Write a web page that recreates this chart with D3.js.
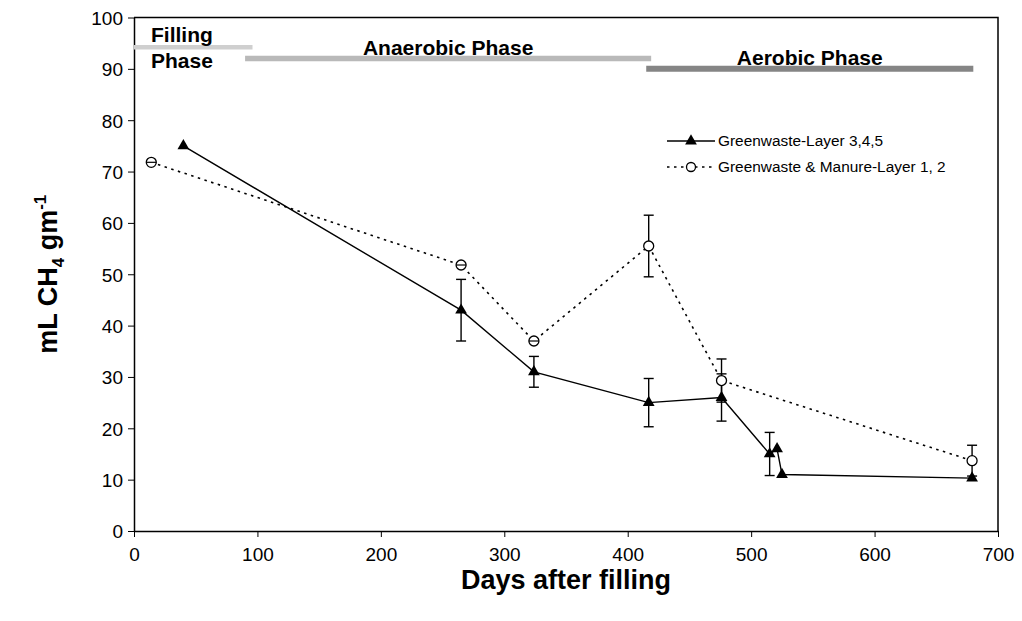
<!DOCTYPE html>
<html>
<head>
<meta charset="utf-8">
<script src="https://cdn.jsdelivr.net/npm/d3@7"></script>
<style>
  body { margin: 0; background: #fff; }
  svg text { font-family: "Liberation Sans", Arial, sans-serif; }
</style>
</head>
<body>
<svg id="chart" width="1022" height="621"></svg>
<script>
// --- data
const greenDays = [40, 265, 324, 417, 476, 515, 521, 525, 679]
const greenValues = [75, 43, 31, 25, 26, 15, 16, 11, 10.3]
const greenErr = [0, 6, 3, 4.7, 4.6, 4.2, 0, 0, 0]

const manureDays = [14, 265, 324, 417, 476, 679]
const manureValues = [71.8, 51.8, 37, 55.5, 29.3, 13.7]
const manureErr = [0, 0, 0, 6, 4.2, 3]

const phaseNames = ['Filling', 'Anaerobic Phase', 'Aerobic Phase']
const phaseStart = [0, 90, 415]
const phaseEnd = [96, 419, 680]
const phaseLevel = [94.2, 92, 90]

const xTicks = [0, 100, 200, 300, 400, 500, 600, 700]
const yTicks = [0, 10, 20, 30, 40, 50, 60, 70, 80, 90, 100]

const legendLabels = ['Greenwaste-Layer 3,4,5', 'Greenwaste & Manure-Layer 1, 2']

// --- layout
const margin = {top: 17.5, right: 24, bottom: 90, left: 134}
const width = 1022 - margin.left - margin.right
const height = 621 - margin.top - margin.bottom

const svg = d3.select('#chart')
const g = svg.append('g').attr('transform', `translate(${margin.left},${margin.top})`)

const x = d3.scaleLinear().domain([0, 700]).range([0, width])
const y = d3.scaleLinear().domain([0, 100]).range([height, 0])

// frame (top and right sides)
g.append('path')
  .attr('d', `M0,0H${width}V${height}`)
  .attr('fill', 'none')
  .attr('stroke', '#000')
  .attr('stroke-width', 1.5)

// axes
const xAxis = g.append('g')
  .attr('transform', `translate(0,${height})`)
  .call(d3.axisBottom(x).tickValues(xTicks).tickSize(6).tickSizeOuter(0))
const yAxis = g.append('g')
  .call(d3.axisLeft(y).tickValues(yTicks).tickSize(6).tickSizeOuter(0))

for (const ax of [xAxis, yAxis]) {
  ax.select('.domain').attr('stroke-width', 1.5)
  ax.selectAll('.tick line').attr('stroke-width', 1)
  ax.selectAll('.tick text')
    .attr('font-size', 19)
    .attr('fill', '#000')
    .style('font-family', '"Liberation Sans", Arial, sans-serif')
}
xAxis.selectAll('.tick text').attr('y', 12).attr('dy', '0.95em')
yAxis.selectAll('.tick text').attr('x', -11).attr('dy', '0.36em')

// axis titles
svg.append('text')
  .attr('x', margin.left + width / 2)
  .attr('y', 589)
  .attr('text-anchor', 'middle')
  .attr('font-size', 27)
  .attr('font-weight', 'bold')
  .text('Days after filling')

const yTitle = svg.append('text')
  .attr('transform', `translate(57,${margin.top + height / 2}) rotate(-90)`)
  .attr('text-anchor', 'middle')
  .attr('font-size', 27)
  .attr('font-weight', 'bold')
yTitle.append('tspan').text('mL CH')
yTitle.append('tspan').attr('font-size', 17).attr('dy', 7).text('4')
yTitle.append('tspan').attr('dy', -7).text(' gm')
yTitle.append('tspan').attr('font-size', 17).attr('dy', -11).text('-1')

// --- phase bars
const phaseColors = ['#cfcfcf', '#b9b9b9', '#858585']
const phaseWidths = [4.5, 5.5, 6]
phaseNames.forEach((name, i) => {
  g.append('line')
    .attr('x1', x(phaseStart[i]))
    .attr('x2', x(phaseEnd[i]))
    .attr('y1', y(phaseLevel[i]))
    .attr('y2', y(phaseLevel[i]))
    .attr('stroke', phaseColors[i])
    .attr('stroke-width', phaseWidths[i])
})

const phaseText = g.append('g')
  .attr('font-size', 21)
  .attr('font-weight', 'bold')
phaseText.append('text').attr('x', 17).attr('y', 24).text('Filling')
phaseText.append('text').attr('x', 17).attr('y', 50).text('Phase')
phaseText.append('text')
  .attr('x', x((phaseStart[1] + phaseEnd[1]) / 2)).attr('y', 37).attr('text-anchor', 'middle')
  .text(phaseNames[1])
phaseText.append('text')
  .attr('x', x((phaseStart[2] + phaseEnd[2]) / 2)).attr('y', 47).attr('text-anchor', 'middle')
  .text(phaseNames[2])

// --- series
const greenData = greenDays.map((d, i) => ({day: d, v: greenValues[i], e: greenErr[i]}))
const manureData = manureDays.map((d, i) => ({day: d, v: manureValues[i], e: manureErr[i]}))

const line = d3.line().x(d => x(d.day)).y(d => y(d.v))

g.append('path')
  .datum(manureData)
  .attr('d', line)
  .attr('fill', 'none')
  .attr('stroke', '#000')
  .attr('stroke-width', 1.6)
  .attr('stroke-dasharray', '2.5,4.5')

g.append('path')
  .datum(greenData)
  .attr('d', line)
  .attr('fill', 'none')
  .attr('stroke', '#000')
  .attr('stroke-width', 1.4)

// error bars
const drawErrors = (data) => {
  const eg = g.append('g').attr('stroke', '#000').attr('stroke-width', 1.4)
  data.filter(d => d.e > 0).forEach(d => {
    const cx = x(d.day)
    eg.append('line').attr('x1', cx).attr('x2', cx)
      .attr('y1', y(d.v + d.e)).attr('y2', y(d.v - d.e))
    for (const v of [d.v + d.e, d.v - d.e]) {
      eg.append('line').attr('x1', cx - 5).attr('x2', cx + 5)
        .attr('y1', y(v)).attr('y2', y(v))
    }
  })
}
drawErrors(manureData)
drawErrors(greenData)

// markers
const triangle = d3.symbol().type(d3.symbolTriangle).size(60)

g.append('g').selectAll('circle')
  .data(manureData)
  .join('circle')
  .attr('cx', d => x(d.day))
  .attr('cy', d => y(d.v))
  .attr('r', 5)
  .attr('fill', '#fff')
  .attr('stroke', '#000')
  .attr('stroke-width', 1.3)

// zero-size error caps show as a bar across the open circles
g.append('g').selectAll('line')
  .data(manureData.filter(d => d.e === 0))
  .join('line')
  .attr('x1', d => x(d.day) - 5)
  .attr('x2', d => x(d.day) + 5)
  .attr('y1', d => y(d.v))
  .attr('y2', d => y(d.v))
  .attr('stroke', '#000')
  .attr('stroke-width', 1.2)

g.append('g').selectAll('path')
  .data(greenData)
  .join('path')
  .attr('transform', d => `translate(${x(d.day)},${y(d.v)})`)
  .attr('d', triangle)
  .attr('fill', '#000')

// --- legend
const legend = g.append('g').attr('transform', `translate(${667 - margin.left},${141 - margin.top})`)
const legendRows = legend.selectAll('g')
  .data(legendLabels)
  .join('g')
  .attr('transform', (d, i) => `translate(0,${i * 26})`)

legendRows.append('line')
  .attr('x1', 0).attr('x2', 48)
  .attr('stroke', '#000')
  .attr('stroke-width', (d, i) => i === 0 ? 1.4 : 1.6)
  .attr('stroke-dasharray', (d, i) => i === 0 ? null : '2.5,4.5')

legendRows.filter((d, i) => i === 0).append('path')
  .attr('transform', 'translate(24,0)')
  .attr('d', triangle)
  .attr('fill', '#000')

legendRows.filter((d, i) => i === 1).append('circle')
  .attr('cx', 24).attr('r', 4.5)
  .attr('fill', '#fff').attr('stroke', '#000').attr('stroke-width', 1.3)

legendRows.append('text')
  .attr('x', 51)
  .attr('dy', '0.35em')
  .attr('font-size', 15.4)
  .text(d => d)
</script>
</body>
</html>
